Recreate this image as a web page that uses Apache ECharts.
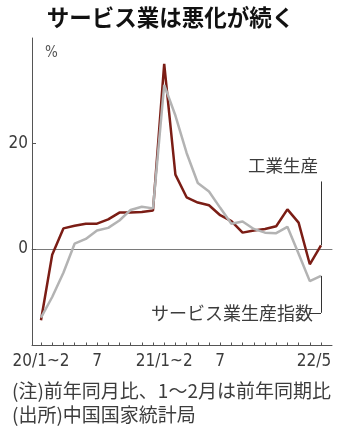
<!DOCTYPE html>
<html><head><meta charset="utf-8">
<script src="https://cdn.jsdelivr.net/npm/echarts@6/dist/echarts.min.js"></script>
<style>html,body{margin:0;padding:0;background:#fff}#c{width:341px;height:433px}</style>
</head><body><div id="c"></div>
<script>
const categories = ['20/1~2','20/3','20/4','20/5','20/6','20/7','20/8','20/9','20/10','20/11','20/12',
  '21/1~2','21/3','21/4','21/5','21/6','21/7','21/8','21/9','21/10','21/11','21/12',
  '22/1~2','22/3','22/4','22/5'];
const industry = [-13.5,-1.1,3.9,4.4,4.8,4.8,5.6,6.9,6.9,7.0,7.3,35.1,14.1,9.8,8.8,8.3,6.4,5.3,3.1,3.5,3.8,4.3,7.5,5.0,-2.9,0.7];
const services = [-13.0,-9.1,-4.5,1.0,1.9,3.5,4.0,5.4,7.4,8.0,7.7,31.1,25.3,18.2,12.5,10.9,7.8,4.8,5.2,3.8,3.1,3.0,4.2,-0.9,-6.1,-5.1];
const xTickLabels = {0:'20/1~2',5:'7',11:'21/1~2',16:'7',25:'22/5'};
const yTickValues = [0, 20];
const title = 'サービス業は悪化が続く';
const unit = '%';
const labelIndustry = '工業生産';
const labelServices = 'サービス業生産指数';
const note1 = '(注)前年同月比、1～2月は前年同期比';
const note2 = '(出所)中国国家統計局';

const CJK = "'Noto Sans CJK JP', sans-serif";
const NUM = "'Liberation Sans Narrow', 'DejaVu Sans Condensed', 'Noto Sans', sans-serif";
const yMin = -18.3, yMax = 40;
const last = categories.length - 1;
const TXT = '#3c3c3c';

const chart = echarts.init(document.getElementById('c'), null, {renderer: 'canvas'});
chart.setOption({
  animation: false,
  backgroundColor: '#fff',
  grid: [
    {left: 32, right: 9, top: 38, bottom: 87.5},
    {left: 41, right: 20, top: 38, bottom: 87.5}
  ],
  xAxis: [
    {gridIndex: 0, type: 'value', min: 0, max: 1, axisLine: {show: true, onZero: true, lineStyle: {color: '#7a7a7a', width: 1}},
      axisTick: {show: false}, axisLabel: {show: false}, splitLine: {show: false}},
    {gridIndex: 0, type: 'value', min: 0, max: 1, position: 'bottom', axisLine: {show: true, onZero: false, lineStyle: {color: '#555', width: 1}},
      axisTick: {show: false}, axisLabel: {show: false}, splitLine: {show: false}},
    {gridIndex: 1, type: 'category', data: categories, boundaryGap: false, position: 'bottom',
      axisLine: {show: false, onZero: false},
      axisTick: {show: true, inside: true, length: 3, interval: 0, lineStyle: {color: '#555', width: 1}},
      axisLabel: {interval: (i) => xTickLabels[i] !== undefined, margin: 8,
        formatter: (v, i) => i === last ? '{r|' + xTickLabels[i] + '}' : (xTickLabels[i] || ''),
        color: TXT, fontSize: 17, fontFamily: NUM,
        rich: {r: {fontSize: 17, fontFamily: NUM, color: TXT, padding: [0, 14, 0, 0]}}},
      splitLine: {show: false}}
  ],
  yAxis: [
    {gridIndex: 0, type: 'value', min: yMin, max: yMax,
      axisLine: {show: true, lineStyle: {color: '#555', width: 1}},
      axisTick: {show: true, inside: true, length: 4, customValues: yTickValues, lineStyle: {color: '#555'}},
      axisLabel: {customValues: yTickValues, margin: 4, color: TXT, fontSize: 17, fontFamily: NUM},
      splitLine: {show: false}},
    {gridIndex: 1, type: 'value', min: yMin, max: yMax, show: false, splitLine: {show: false}}
  ],
  series: [
    {type: 'line', xAxisIndex: 2, yAxisIndex: 1, data: industry, symbol: 'none',
      lineStyle: {color: '#7b1d15', width: 2.5}, z: 3,
      markLine: {silent: true, symbol: 'none', label: {show: false},
        lineStyle: {color: '#333', width: 1, type: 'solid'},
        data: [[{coord: [last, industry[last]]}, {coord: [last, 12.8]}]]}},
    {type: 'line', xAxisIndex: 2, yAxisIndex: 1, data: services, symbol: 'none',
      lineStyle: {color: '#b3b3b3', width: 2.5}, z: 4,
      markLine: {silent: true, symbol: 'none', label: {show: false},
        lineStyle: {color: '#333', width: 1, type: 'solid'},
        data: [[{coord: [last, services[last]]}, {coord: [last, -12.1]}],
               [{coord: [last, -12.1]}, {coord: [last - 0.7, -12.1]}]]}}
  ],
  graphic: [
    {type: 'text', left: 'center', top: 6, style: {text: title, fontSize: 22.5, fontWeight: 'bold', fontFamily: CJK, fill: '#111'}},
    {type: 'text', x: 45, y: 53, style: {text: unit, fontSize: 15, fontFamily: NUM, fill: '#555', verticalAlign: 'middle'}},
    {type: 'text', x: 318, y: 165, style: {text: labelIndustry, fontSize: 17.5, fontFamily: CJK, fill: TXT, align: 'right', verticalAlign: 'middle'}},
    {type: 'text', x: 313, y: 313, style: {text: labelServices, fontSize: 18, fontFamily: CJK, fill: TXT, align: 'right', verticalAlign: 'middle'}},
    {type: 'text', x: 12, y: 391, style: {text: note1, fontSize: 19, fontFamily: CJK, fill: TXT, verticalAlign: 'middle'}},
    {type: 'text', x: 12, y: 415, style: {text: note2, fontSize: 19, fontFamily: CJK, fill: TXT, verticalAlign: 'middle'}}
  ]
});
</script></body></html>
